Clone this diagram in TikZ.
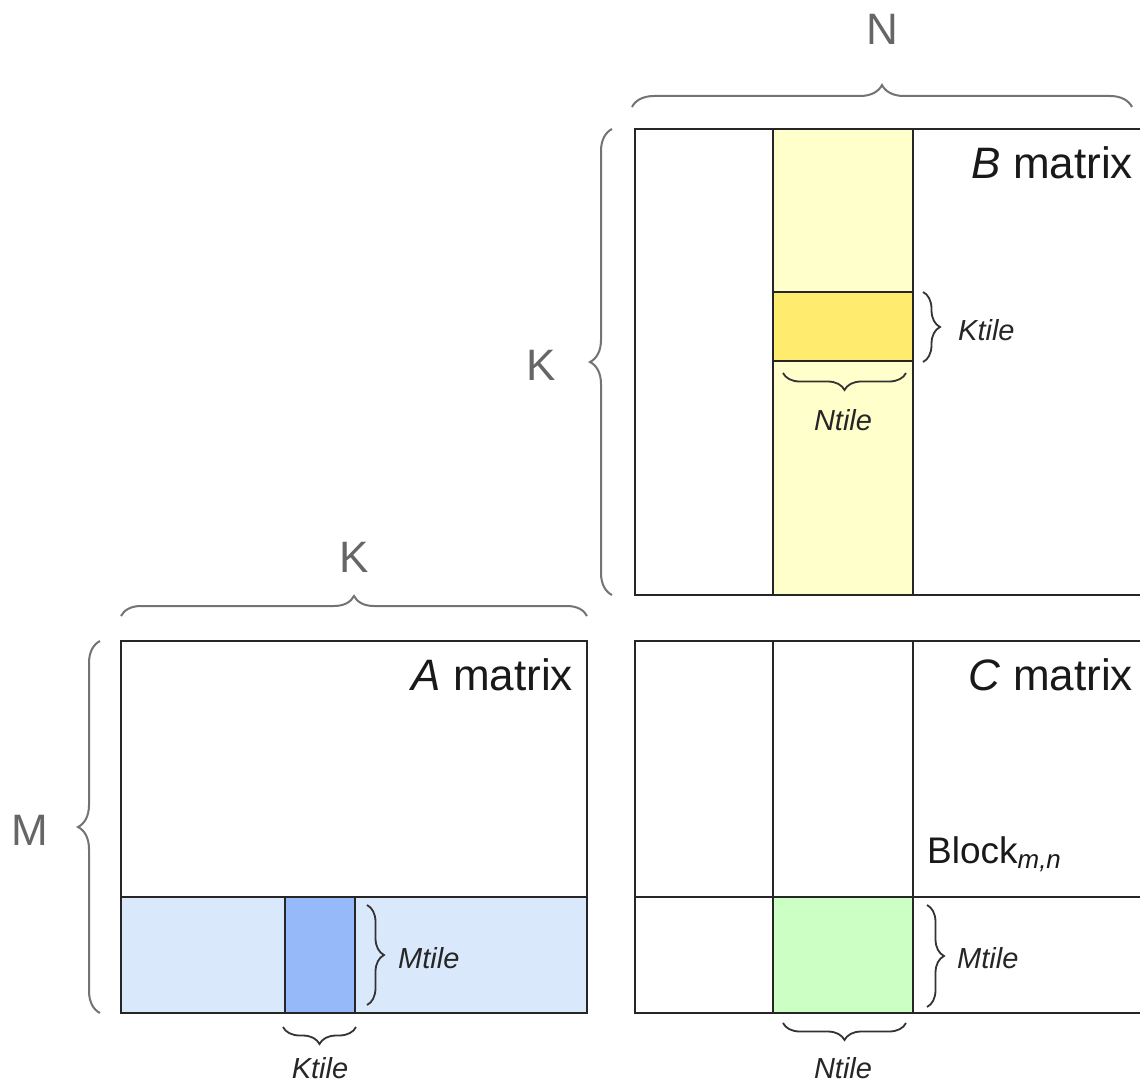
\documentclass[tikz,border=0pt]{standalone}
\usepackage{fontspec}
\setmainfont{Liberation Sans}
\usetikzlibrary{decorations.pathreplacing}
\definecolor{lyellow}{HTML}{FFFFCC}
\definecolor{dyellow}{HTML}{FFEC6E}
\definecolor{lblue}{HTML}{DAE8FC}
\definecolor{dblue}{HTML}{96B9FA}
\definecolor{lgreen}{HTML}{CCFFC4}
\begin{document}
\begin{tikzpicture}[x=1pt,y=-1pt,
  box/.style={draw=black!85, line width=2pt},
  bigbrace/.style={draw=black!55, line width=2pt, decorate, decoration={brace, amplitude=22pt}},
  tilebrace/.style={draw=black!80, line width=1.8pt, decorate, decoration={brace, amplitude=17pt}},
  biglabel/.style={text=black!60, font=\fontsize{44}{48}\selectfont, inner sep=0pt},
  mlabel/.style={font=\fontsize{44}{48}\selectfont, text=black!90, inner sep=0pt},
  blabel/.style={font=\fontsize{37}{40}\selectfont, text=black!90, inner sep=0pt},
  tlabel/.style={font=\fontsize{29}{31}\selectfont\itshape, text=black!85, inner sep=0pt}]
\useasboundingbox (0,0) rectangle (1140,1086);
\clip (0,0) rectangle (1140,1086);
\fill[white] (0,0) rectangle (1140,1086);

% ---- B matrix
\fill[lyellow] (773,129) rectangle (913,595);
\fill[dyellow] (773,292) rectangle (913,361);
\draw[box] (635,129) rectangle (1150,595);
\draw[box] (773,129) -- (773,595);
\draw[box] (913,129) -- (913,595);
\draw[box] (773,292) -- (913,292);
\draw[box] (773,361) -- (913,361);
\node[mlabel, anchor=base east] (bname) at (1133,179) {\textit{B} matrix};

% ---- A matrix
\fill[lblue] (121,897) rectangle (587,1013);
\fill[dblue] (285,897) rectangle (355,1013);
\draw[box] (121,641) rectangle (587,1013);
\draw[box] (121,897) -- (587,897);
\draw[box] (285,897) -- (285,1013);
\draw[box] (355,897) -- (355,1013);
\node[mlabel, anchor=base east] (aname) at (573,690) {\textit{A} matrix};

% ---- C matrix
\fill[lgreen] (773,897) rectangle (913,1013);
\draw[box] (635,641) rectangle (1150,1013);
\draw[box] (773,641) -- (773,1013);
\draw[box] (913,641) -- (913,1013);
\draw[box] (635,897) -- (1150,897);
\node[mlabel, anchor=base east] (cname) at (1133,690) {\textit{C} matrix};
\node[blabel, anchor=base west] (block) at (927,863) {Block\textsubscript{\itshape m,n}};

% ---- big braces
\draw[bigbrace] (632,107) -- (1132,107);
\node[biglabel] (nlab) at (882,29) {N};
\draw[bigbrace] (612,595) -- (612,129);
\node[biglabel] (klabb) at (541,365) {K};
\draw[bigbrace, decoration={brace, amplitude=20pt}] (121,616) -- (587,616);
\node[biglabel] (klaba) at (354,557) {K};
\draw[bigbrace] (100,1013) -- (100,641);
\node[biglabel] (mlab) at (30,830) {M};

% ---- tile braces
\draw[tilebrace] (923,292) -- (923,362);
\node[tlabel, anchor=west] (ktileb) at (958,330) {Ktile};
\draw[tilebrace] (906,373) -- (783,373);
\node[tlabel] (ntileb) at (843,420) {Ntile};

\draw[tilebrace] (367,905) -- (367,1005);
\node[tlabel, anchor=west] (mtilea) at (398,958) {Mtile};
\draw[tilebrace] (356,1027) -- (283,1027);
\node[tlabel] (ktilea) at (320,1068) {Ktile};

\draw[tilebrace] (927,905) -- (927,1007);
\node[tlabel, anchor=west] (mtilec) at (957,958) {Mtile};
\draw[tilebrace] (906,1023) -- (783,1023);
\node[tlabel] (ntilec) at (843,1068) {Ntile};
\end{tikzpicture}
\end{document}
